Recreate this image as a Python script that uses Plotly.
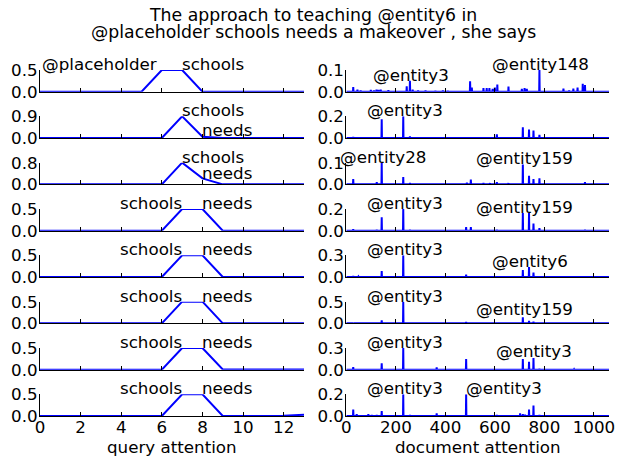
import plotly.graph_objects as go

W, H = 626, 459
OFF = 8  # page body margin of the browser; positions below are page pixels
FONT = "DejaVu Sans"
FS = 16.7
FS_TITLE = 17.3
BLUE = "#0000ff"

title_lines = ["The approach to teaching @entity6 in",
               "@placeholder schools needs a makeover , she says"]
x_title_left = "query attention"
x_title_right = "document attention"

# ---------------- query attention (14 tokens) ----------------
query_x = list(range(14))
query_att = [
    [0, 0, 0, 0, 0, 0, 0.5, 0.5, 0, 0, 0, 0, 0, 0],
    [0, 0, 0, 0, 0, 0, 0, 0.9, 0.05, 0.005, 0, 0, 0, 0],
    [0, 0, 0, 0, 0, 0, 0, 0.8, 0.22, 0, 0, 0, 0, 0],
    [0, 0, 0, 0, 0, 0, 0, 0.5, 0.5, 0, 0, 0, 0, 0],
    [0, 0, 0, 0, 0, 0, 0, 0.5, 0.5, 0, 0, 0, 0, 0],
    [0, 0, 0, 0, 0, 0, 0, 0.5, 0.5, 0, 0, 0, 0, 0],
    [0, 0, 0, 0, 0, 0, 0, 0.5, 0.5, 0.005, 0.005, 0.005, 0.005, 0.005],
    [0, 0, 0, 0, 0, 0, 0, 0.5, 0.5, 0, 0, 0, 0.005, 0.03],
]
query_labels = [
    [("@placeholder", 5.75, 0.5, "right"), ("schools", 7, 0.5, "left")],
    [("schools", 7, 0.9, "left"), ("needs", 8, 0.07, "left")],
    [("schools", 7, 0.8, "left"), ("needs", 8, 0.21, "left")],
    [("schools", 7, 0.5, "right"), ("needs", 8, 0.5, "left")],
    [("schools", 7, 0.5, "right"), ("needs", 8, 0.5, "left")],
    [("schools", 7, 0.5, "right"), ("needs", 8, 0.5, "left")],
    [("schools", 7, 0.5, "right"), ("needs", 8, 0.5, "left")],
    [("schools", 7, 0.5, "right"), ("needs", 8, 0.5, "left")],
]
query_ticks = [0, 2, 4, 6, 8, 10, 12]

# ---------------- document attention (sparse peaks) ----------------
doc_len = 1062
doc_pos = [
    [28, 45, 58, 99, 112, 122, 130, 139, 170, 244, 257, 268, 290, 320, 360, 390,
     410, 500, 507, 554, 567, 578, 591, 600, 610, 655, 709, 720, 729, 780, 877,
     900, 917, 934, 955, 964],
    [28, 49, 143, 230, 257, 365, 500, 520, 608, 713, 738, 756, 780, 958],
    [28, 123, 143, 230, 257, 487, 503, 554, 580, 608, 655, 713, 738, 756, 780, 964],
    [28, 123, 143, 230, 257, 365, 484, 503, 608, 713, 738, 756, 780, 964],
    [28, 49, 123, 143, 230, 257, 484, 713, 738, 756, 780],
    [28, 143, 230, 484, 713, 738, 756],
    [28, 123, 143, 230, 257, 365, 484, 554, 608, 713, 738, 756, 780, 920, 960],
    [28, 42, 89, 103, 123, 143, 230, 257, 365, 484, 554, 608, 702, 713, 722, 738,
     756, 780, 920],
]
doc_val = [
    [0.022, 0.01, 0.006, 0.009, 0.006, 0.01, 0.008, 0.01, 0.007, 0.026, 0.052, 0.01,
     0.006, 0.006, 0.005, 0.006, 0.005, 0.049, 0.02, 0.017, 0.017, 0.017, 0.014,
     0.02, 0.034, 0.025, 0.014, 0.017, 0.014, 0.103, 0.015, 0.006, 0.015, 0.02,
     0.038, 0.032],
    [0.01, 0.006, 0.175, 0.203, 0.016, 0.008, 0.008, 0.008, 0.035, 0.1, 0.08, 0.07,
     0.03, 0.006],
    [0.025, 0.01, 0.1, 0.034, 0.006, 0.008, 0.022, 0.006, 0.006, 0.01, 0.006, 0.092,
     0.039, 0.025, 0.028, 0.01],
    [0.015, 0.008, 0.123, 0.2, 0.008, 0.006, 0.034, 0.034, 0.008, 0.163, 0.163,
     0.065, 0.025, 0.008],
    [0.014, 0.006, 0.008, 0.083, 0.3, 0.008, 0.032, 0.097, 0.138, 0.06, 0.01],
    [0.012, 0.07, 0.5, 0.03, 0.14, 0.06, 0.04],
    [0.037, 0.008, 0.088, 0.3, 0.008, 0.032, 0.148, 0.008, 0.008, 0.148, 0.11, 0.16,
     0.012, 0.006, 0.006],
    [0.06, 0.018, 0.018, 0.01, 0.008, 0.045, 0.2, 0.008, 0.024, 0.2, 0.006, 0.008,
     0.024, 0.018, 0.012, 0.06, 0.097, 0.01, 0.006],
]
doc_labels = [
    [("@entity3", 261, 0.052, "center"), ("@entity148", 783, 0.103, "center")],
    [("@entity3", 237, 0.203, "center")],
    [("@entity28", 150, 0.1, "center"), ("@entity159", 720, 0.092, "center")],
    [("@entity3", 237, 0.2, "center"), ("@entity159", 720, 0.163, "center")],
    [("@entity3", 237, 0.3, "center"), ("@entity6", 742, 0.138, "center")],
    [("@entity3", 237, 0.5, "center"), ("@entity159", 720, 0.19, "center")],
    [("@entity3", 237, 0.3, "center"), ("@entity3", 758, 0.18, "center")],
    [("@entity3", 237, 0.2, "center"), ("@entity3", 484, 0.2, "left")],
]
doc_ticks = [0, 200, 400, 600, 800, 1000]

# ---------------- layout geometry (page pixels) ----------------
LEFT_X = (40, 304)
RIGHT_X = (346.3, 609)
ROW_TOP0, ROW_STEP, ROW_H = 70, 46.33, 21.7
TITLE_BASELINES = (21, 37.7)
XTITLE_BASELINE = 452.7


def px_x(p):
    return (p - OFF) / W


def px_y(p):
    return 1 - (p - OFF) / H


fig = go.Figure()
annotations = []
layout = {}
font = dict(family=FONT, size=FS, color="black")
tfont = dict(family=FONT, size=FS_TITLE, color="black")


def text_ann(text, x, y, xref, yref, ha, fnt):
    # place text with its baseline at y (descent of DejaVu Sans = 0.236 em)
    return dict(text=text, x=x, y=y, xref=xref, yref=yref, xanchor=ha,
                yanchor="bottom", yshift=-0.236 * fnt["size"], showarrow=False,
                font=fnt, borderpad=0, borderwidth=0)


def axis_common():
    return dict(showgrid=False, zeroline=False, showline=True, linecolor="black",
                linewidth=1, ticks="inside", ticklen=4, tickcolor="black",
                tickfont=font, mirror=False, automargin=False)


for r in range(8):
    top = ROW_TOP0 + ROW_STEP * r
    base = top + ROW_H
    ydom = [px_y(base), px_y(top)]
    for side in range(2):
        idx = 2 * r + side + 1
        sfx = "" if idx == 1 else str(idx)
        if side == 0:
            xs, ys = query_x, query_att[r]
            xr = [0, 13]
            xdom = LEFT_X
            ticks = query_ticks
            labels = query_labels[r]
            ymax = max(ys)
        else:
            ys = [0.0] * doc_len
            for p, v in zip(doc_pos[r], doc_val[r]):
                ys[p] = v
            xs = list(range(doc_len))
            xr = [0, doc_len - 1]
            xdom = RIGHT_X
            ticks = doc_ticks
            labels = doc_labels[r]
            ymax = max(ys)
        fig.add_trace(go.Scatter(x=xs, y=ys, mode="lines",
                                 line=dict(color=BLUE, width=2, simplify=False),
                                 xaxis="x" + sfx, yaxis="y" + sfx,
                                 showlegend=False, hoverinfo="skip"))
        xa = axis_common()
        xa.update(domain=[px_x(xdom[0]), px_x(xdom[1])], range=xr, anchor="y" + sfx,
                  tickvals=ticks, ticktext=[str(t) for t in ticks],
                  showticklabels=(r == 7), ticklabelstandoff=-4)
        ya = axis_common()
        ya.update(domain=ydom, range=[0, ymax], anchor="x" + sfx,
                  tickvals=[0, ymax], ticktext=["0.0", f"{ymax:.1f}"],
                  ticklabelstandoff=-2)
        layout["xaxis" + sfx] = xa
        layout["yaxis" + sfx] = ya
        for text, lx, ly, ha in labels:
            annotations.append(text_ann(text, lx, ly, "x" + sfx, "y" + sfx, ha, font))

# titles
for line, bl in zip(title_lines, TITLE_BASELINES):
    annotations.append(text_ann(line, px_x(W / 2), px_y(bl), "paper", "paper",
                                "center", tfont))
for txt, span in ((x_title_left, LEFT_X), (x_title_right, RIGHT_X)):
    annotations.append(text_ann(txt, px_x(sum(span) / 2), px_y(XTITLE_BASELINE),
                                "paper", "paper", "center", font))

fig.update_layout(width=W, height=H,
                  margin=dict(l=0, r=0, t=0, b=0, autoexpand=False),
                  template="none",
                  paper_bgcolor="white", plot_bgcolor="white",
                  font=font, annotations=annotations, **layout)

fig.write_html("out.html")
